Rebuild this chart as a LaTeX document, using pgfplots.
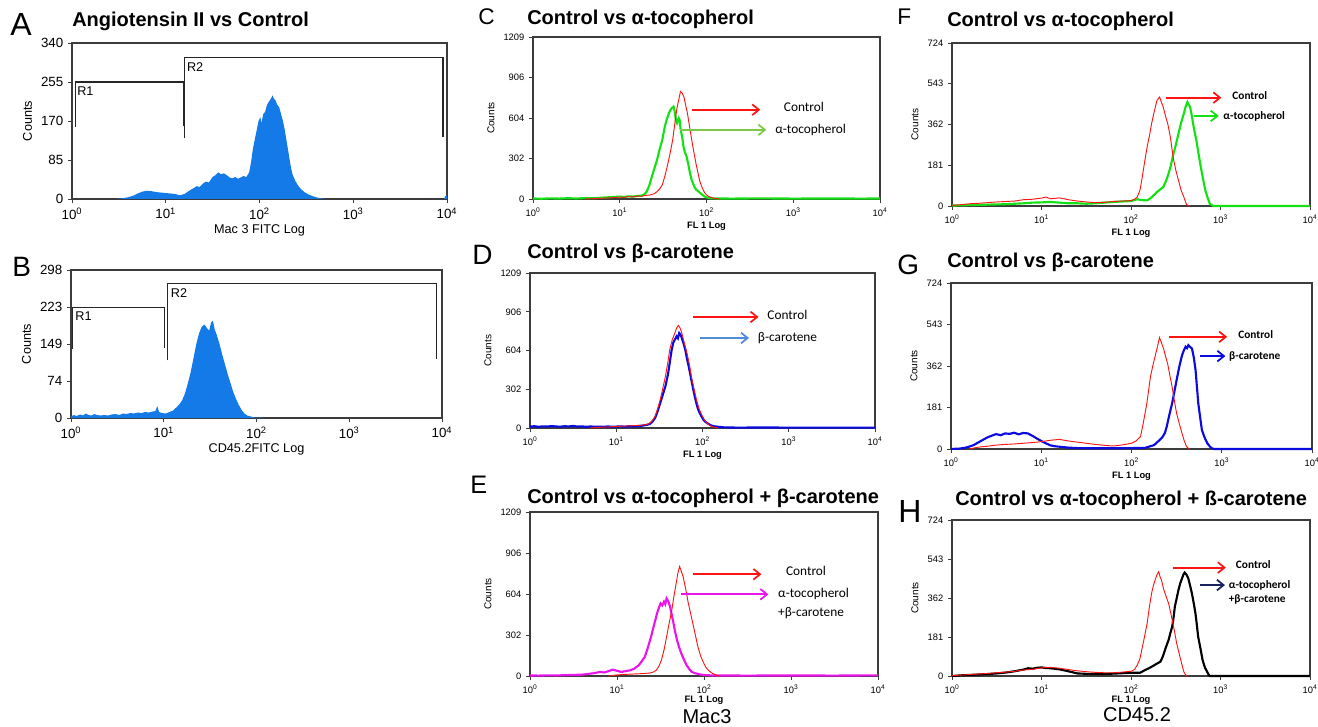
\documentclass[border=0pt]{standalone}
\usepackage{fontspec}
\setmainfont{Liberation Sans}
\newfontfamily\calib{Carlito}
\usepackage{pgfplots}
\pgfplotsset{compat=1.18}
\usetikzlibrary{arrows.meta}
\definecolor{fcsblue}{RGB}{20,122,232}
\definecolor{ctrlred}{RGB}{255,20,20}
\definecolor{tocgreen}{RGB}{20,225,20}
\definecolor{tocarrow}{RGB}{125,200,70}
\definecolor{carblue}{RGB}{10,10,225}
\definecolor{cararrow}{RGB}{80,140,220}
\definecolor{mixmag}{RGB}{235,20,235}
\definecolor{navyarrow}{RGB}{25,35,95}
\definecolor{frame}{RGB}{60,60,60}
\tikzset{
  redline/.style={ctrlred, line width=0.7pt},
  thickline/.style={line width=1.6pt},
  arr/.style={line width=1.5pt, -{Straight Barb[length=5pt,width=8pt,line width=1.3pt]}},
  annC/.style={anchor=west, inner sep=0pt, font=\calib\fontsize{10}{12}\selectfont},
  annF/.style={anchor=west, inner sep=0pt, font=\calib\bfseries\fontsize{8.5}{10}\selectfont, align=left},
}
\pgfplotsset{
  fcs/.style={scale only axis, anchor=south west, xmin=0, xmax=4, ymin=0,
    enlargelimits=false, clip=false,
    /pgf/number format/assume math mode=true,
    xtick={0,1,2,3,4},
    xticklabels={10\textsuperscript{0},10\textsuperscript{1},10\textsuperscript{2},10\textsuperscript{3},10\textsuperscript{4}},
    tick align=outside, tick pos=left, major tick length=3pt,
    axis line style={frame,line width=0.8pt}, tick style={frame,line width=0.6pt},
    ylabel={Counts}},
  big/.style={fcs,
    tick label style={font=\fontsize{10}{12}\selectfont},
    label style={font=\fontsize{9.5}{11}\selectfont},
    xlabel style={yshift=3pt}},
  small/.style={fcs,
    tick label style={font=\fontsize{7}{8}\selectfont},
    ylabel style={font=\fontsize{7.5}{9}\selectfont},
    xlabel style={font=\bfseries\fontsize{7}{8}\selectfont, yshift=3pt},
    xlabel={FL 1 Log}},
}
\begin{document}
\begin{tikzpicture}
\path[use as bounding box] (0pt,0pt) rectangle (988.5pt,-545.25pt);

% ---------------- A ----------------
\begin{axis}[big, at={(54pt,-149.25pt)}, width=281.25pt, height=117pt,
  ymax=340, ytick={0,85,170,255,340}, yticklabels={0,85,170,255,340}, xlabel={Mac 3 FITC Log}]
\addplot[fill=fcsblue, draw=none] coordinates {
(0.48,0) (0.5,1) (0.55,2) (0.6,4) (0.65,7) (0.7,12) (0.75,16) (0.8,18) (0.85,17)
(0.9,15) (0.95,14) (1.0,13) (1.05,12) (1.1,11) (1.15,8) (1.2,11) (1.25,18) (1.3,24)
(1.33,28) (1.36,26) (1.4,34) (1.43,38) (1.46,36) (1.5,48) (1.53,52) (1.56,58) (1.59,54)
(1.62,56) (1.65,52) (1.68,47) (1.71,45) (1.74,48) (1.77,44) (1.8,47) (1.83,50) (1.86,48)
(1.89,58) (1.91,80) (1.93,110) (1.95,130) (1.97,150) (1.99,170) (2.01,178) (2.02,165)
(2.04,185) (2.06,190) (2.08,205) (2.10,212) (2.12,218) (2.14,226) (2.15,220) (2.17,215)
(2.19,205) (2.21,200) (2.23,185) (2.25,170) (2.27,150) (2.29,125) (2.31,100) (2.33,75)
(2.35,55) (2.38,40) (2.41,30) (2.44,22) (2.48,15) (2.52,10) (2.57,6) (2.62,3) (2.67,1) (2.7,0)
} \closedcycle;
\addplot[fill=fcsblue, draw=none] coordinates {(3.97,0) (3.98,6) (4.0,8) (4.0,0)} \closedcycle;
\draw[black!85, line width=0.8pt] (0.036,158) -- (0.036,255) -- (1.19,255) -- (1.19,159);
\draw[black!85, line width=0.8pt] (1.20,132) -- (1.20,308) -- (3.957,308) -- (3.957,136);
\node[anchor=north west, inner sep=1pt, font=\fontsize{9.5}{11}\selectfont] at (0.04,248) {R1};
\node[anchor=north west, inner sep=1pt, font=\fontsize{9.5}{11}\selectfont] at (1.21,301) {R2};
\end{axis}

% ---------------- B ----------------
\begin{axis}[big, at={(53.25pt,-313.5pt)}, width=278.25pt, height=111pt,
  ymax=298, ytick={0,74,149,223,298}, yticklabels={0,74,149,223,298}, xlabel={CD45.2FITC Log}]
\addplot[fill=fcsblue, draw=none] coordinates {
(0,3) (0.03,6) (0.06,4) (0.1,7) (0.13,5) (0.16,9) (0.19,6) (0.22,5) (0.25,8) (0.28,6)
(0.32,5) (0.36,6) (0.4,5) (0.44,7) (0.48,8) (0.52,6) (0.56,9) (0.6,8) (0.64,10) (0.68,9)
(0.72,11) (0.76,10) (0.8,12) (0.84,11) (0.88,13) (0.91,14) (0.93,24) (0.95,12) (0.98,10)
(1.02,9) (1.06,12) (1.1,15) (1.14,22) (1.17,28) (1.2,36) (1.23,50) (1.26,70) (1.29,92)
(1.32,120) (1.35,148) (1.38,170) (1.41,184) (1.44,188) (1.47,180) (1.49,176) (1.51,192)
(1.53,196) (1.55,178) (1.57,168) (1.6,150) (1.63,128) (1.66,108) (1.69,88) (1.72,70)
(1.75,52) (1.78,38) (1.81,26) (1.84,16) (1.87,9) (1.9,5) (1.94,3) (1.98,1) (2.04,1) (2.08,0)
} \closedcycle;
\draw[black!85, line width=0.8pt] (0.02,139) -- (0.02,223) -- (1.007,223) -- (1.007,141);
\draw[black!85, line width=0.8pt] (1.04,116) -- (1.04,270) -- (3.94,270) -- (3.94,119);
\node[anchor=north west, inner sep=1pt, font=\fontsize{9.5}{11}\selectfont] at (0.03,217) {R1};
\node[anchor=north west, inner sep=1pt, font=\fontsize{9.5}{11}\selectfont] at (1.06,264) {R2};
\end{axis}

% ---------------- C ----------------
\begin{axis}[small, at={(399.75pt,-149.25pt)}, width=260.25pt, height=121.5pt,
  ymax=1209, ytick={0,302,604,906,1209}, yticklabels={0,302,604,906,1209}]
\addplot[tocgreen, thickline] coordinates {
(0,4) (0.1,2) (0.2,5) (0.3,3) (0.4,6) (0.5,4) (0.6,7) (0.7,6) (0.8,10) (0.9,14) (1.0,18)
(1.05,15) (1.1,20) (1.15,18) (1.2,22) (1.25,25) (1.28,32) (1.31,55) (1.34,100) (1.37,167)
(1.40,230) (1.43,292) (1.46,370) (1.49,441) (1.52,541) (1.54,590) (1.56,628) (1.58,660)
(1.60,678) (1.62,690) (1.63,666) (1.65,580) (1.66,566) (1.68,603) (1.69,590) (1.70,528)
(1.72,460) (1.735,391) (1.75,350) (1.77,317) (1.79,260) (1.81,192) (1.83,140) (1.86,92)
(1.88,70) (1.91,55) (1.94,38) (1.97,22) (2.0,12) (2.04,6) (2.1,4) (2.3,3) (2.6,5) (3.0,3)
(3.4,4) (3.8,3) (4,4)};
\addplot[redline] coordinates {
(0.6,0) (0.7,3) (0.8,6) (0.9,9) (1.0,14) (1.05,12) (1.1,18) (1.15,15) (1.2,22) (1.25,20)
(1.3,27) (1.35,30) (1.4,40) (1.43,55) (1.46,75) (1.49,105) (1.52,170) (1.55,250) (1.58,340)
(1.61,440) (1.64,590) (1.66,680) (1.68,740) (1.70,803) (1.72,790) (1.74,760) (1.76,700)
(1.78,640) (1.80,560) (1.82,480) (1.84,400) (1.86,330) (1.88,260) (1.90,200) (1.92,140)
(1.94,100) (1.96,70) (1.98,45) (2.01,25) (2.05,12) (2.1,4) (2.15,0)};
\draw[ctrlred, arr] (1.83,666) -- (2.62,666);
\draw[tocarrow, arr] (1.70,516) -- (2.69,516);
\node[annC] at (2.89,686) {Control};
\node[annC] at (2.79,516) {α-tocopherol};
\end{axis}

% ---------------- D ----------------
\begin{axis}[small, at={(397.5pt,-321pt)}, width=258.75pt, height=116.25pt,
  ymax=1209, ytick={0,302,604,906,1209}, yticklabels={0,302,604,906,1209}]
\addplot[carblue, thickline] coordinates {
(0,10) (0.05,14) (0.1,9) (0.15,13) (0.2,11) (0.25,15) (0.3,12) (0.35,10) (0.4,14) (0.45,12)
(0.5,16) (0.55,11) (0.6,13) (0.65,9) (0.7,12) (0.75,10) (0.8,11) (0.85,9) (0.9,12) (0.95,10)
(1.0,11) (1.05,13) (1.1,10) (1.15,14) (1.2,12) (1.25,15) (1.3,18) (1.35,24) (1.39,31) (1.42,50)
(1.45,78) (1.48,130) (1.51,195) (1.54,260) (1.57,325) (1.60,420) (1.62,507) (1.64,600)
(1.66,663) (1.68,690) (1.70,715) (1.715,700) (1.73,741) (1.745,730) (1.76,702) (1.78,660)
(1.80,611) (1.82,540) (1.84,481) (1.855,430) (1.87,377) (1.89,310) (1.91,247) (1.93,190)
(1.95,143) (1.98,100) (2.01,65) (2.04,45) (2.07,31) (2.1,20) (2.14,13) (2.2,8) (2.25,5)
(2.4,3) (2.7,4) (3.0,3) (3.5,3) (4,3)};
\addplot[redline] coordinates {
(0.7,0) (0.8,5) (1.0,12) (1.1,15) (1.2,18) (1.3,22) (1.36,28) (1.39,39) (1.42,60) (1.45,91)
(1.48,150) (1.51,221) (1.54,310) (1.57,403) (1.60,520) (1.62,611) (1.65,690) (1.68,741)
(1.70,780) (1.72,800) (1.74,780) (1.76,741) (1.79,660) (1.82,585) (1.85,490) (1.87,403)
(1.90,310) (1.93,221) (1.96,150) (1.99,104) (2.02,65) (2.05,39) (2.09,18) (2.13,8) (2.18,0)};
\draw[ctrlred, arr] (1.89,866) -- (2.65,866);
\draw[cararrow, arr] (1.97,702) -- (2.54,702);
\node[annC] at (2.75,884) {Control};
\node[annC] at (2.64,702) {β-carotene};
\end{axis}

% ---------------- E ----------------
\begin{axis}[small, at={(397.5pt,-507pt)}, width=261pt, height=123pt,
  ymax=1209, ytick={0,302,604,906,1209}, yticklabels={0,302,604,906,1209},
  xlabel style={yshift=2pt}]
\addplot[mixmag, thickline] coordinates {
(0,4) (0.1,3) (0.2,5) (0.3,4) (0.4,6) (0.5,8) (0.6,10) (0.65,14) (0.7,18) (0.75,22) (0.8,30)
(0.85,26) (0.9,35) (0.95,47) (1.0,38) (1.05,30) (1.1,36) (1.15,42) (1.2,55) (1.25,79) (1.28,105)
(1.32,141) (1.35,200) (1.38,264) (1.40,310) (1.42,363) (1.44,410) (1.46,461) (1.48,500)
(1.50,535) (1.52,520) (1.54,548) (1.555,530) (1.57,572) (1.59,550) (1.61,511) (1.63,450)
(1.65,387) (1.67,320) (1.69,264) (1.715,210) (1.74,165) (1.77,120) (1.80,79) (1.83,52)
(1.86,30) (1.9,20) (1.95,12) (2.0,7) (2.1,4) (2.5,3) (3.0,4) (3.5,3) (4,5)};
\addplot[redline] coordinates {
(0.9,0) (1.0,8) (1.1,12) (1.2,15) (1.3,18) (1.38,22) (1.42,30) (1.45,42) (1.48,70) (1.51,116)
(1.54,190) (1.57,289) (1.60,390) (1.63,486) (1.655,590) (1.68,683) (1.70,760) (1.72,807)
(1.74,770) (1.76,733) (1.79,640) (1.82,535) (1.85,450) (1.88,363) (1.905,290) (1.93,215)
(1.96,150) (1.99,104) (2.02,65) (2.05,42) (2.09,22) (2.12,12) (2.17,0)};
\draw[ctrlred, arr] (1.87,750) -- (2.66,750);
\draw[mixmag, arr] (1.74,602) -- (2.74,602);
\node[annC] at (2.94,777) {Control};
\node[annC] at (2.85,602) {α-tocopherol};
\node[annC] at (2.85,461) {+β-carotene};
\end{axis}

% ---------------- F ----------------
\begin{axis}[small, at={(714pt,-154.5pt)}, width=268.5pt, height=122.25pt,
  ymax=724, ytick={0,181,362,543,724}, yticklabels={0,181,362,543,724}]
\addplot[tocgreen, thickline] coordinates {
(0,2) (0.2,4) (0.4,6) (0.6,8) (0.8,12) (0.9,15) (1.0,16) (1.1,18) (1.2,15) (1.3,12) (1.4,12)
(1.5,10) (1.6,12) (1.7,15) (1.8,18) (1.9,20) (2.0,22) (2.07,30) (2.12,26) (2.18,25) (2.22,35)
(2.26,50) (2.29,62) (2.33,75) (2.36,84) (2.39,110) (2.42,144) (2.445,180) (2.47,225)
(2.50,270) (2.53,321) (2.56,370) (2.59,410) (2.61,440) (2.63,462) (2.645,450) (2.66,440)
(2.68,400) (2.70,351) (2.73,292) (2.755,230) (2.78,173) (2.805,120) (2.83,70) (2.855,38)
(2.88,10) (2.92,0) (4,0)};
\addplot[redline] coordinates {
(0,3) (0.1,6) (0.2,10) (0.3,12) (0.4,15) (0.5,18) (0.6,20) (0.7,22) (0.8,28) (0.9,30) (1.0,35)
(1.05,40) (1.1,32) (1.2,36) (1.3,28) (1.4,22) (1.5,18) (1.6,15) (1.7,16) (1.8,20) (1.9,22)
(2.0,24) (2.04,30) (2.07,40) (2.10,70) (2.12,114) (2.15,190) (2.18,262) (2.21,320) (2.23,366)
(2.26,420) (2.29,469) (2.32,484) (2.34,460) (2.36,440) (2.385,400) (2.41,366) (2.44,306)
(2.47,218) (2.50,160) (2.53,114) (2.56,70) (2.59,40) (2.62,7) (2.65,0)};
\draw[ctrlred, arr] (2.39,481) -- (3.01,481);
\draw[tocgreen, arr] (2.70,400) -- (2.98,400);
\node[annF] at (3.13,492) {Control};
\node[annF] at (3.03,400) {α-tocopherol};
\end{axis}

% ---------------- G ----------------
\begin{axis}[small, at={(713.25pt,-336.75pt)}, width=270.75pt, height=124.5pt,
  ymax=724, ytick={0,181,362,543,724}, yticklabels={0,181,362,543,724}]
\addplot[carblue, thickline] coordinates {
(0,0) (0.1,2) (0.15,5) (0.2,10) (0.25,17) (0.3,28) (0.35,39) (0.4,50) (0.45,58) (0.5,65)
(0.55,60) (0.6,68) (0.65,66) (0.7,71) (0.75,64) (0.8,70) (0.85,68) (0.9,58) (0.95,46) (1.0,35)
(1.05,25) (1.1,16) (1.15,12) (1.2,10) (1.3,6) (1.4,4) (1.6,3) (1.8,3) (2.0,4) (2.15,5) (2.25,17)
(2.3,35) (2.34,50) (2.37,70) (2.39,97) (2.42,150) (2.45,199) (2.475,250) (2.50,301) (2.53,360)
(2.56,409) (2.58,430) (2.60,446) (2.615,440) (2.63,453) (2.65,445) (2.67,438) (2.69,400)
(2.71,344) (2.725,270) (2.74,199) (2.76,140) (2.78,83) (2.81,50) (2.84,25) (2.87,10) (2.89,3)
(2.92,0) (4,0)};
\addplot[redline] coordinates {
(0.2,0) (0.3,8) (0.4,12) (0.5,17) (0.6,20) (0.7,22) (0.8,25) (0.9,28) (1.0,32) (1.1,38) (1.2,42)
(1.3,35) (1.4,30) (1.5,25) (1.6,20) (1.7,16) (1.8,13) (1.9,18) (2.0,25) (2.05,35) (2.10,54)
(2.13,112) (2.17,199) (2.21,315) (2.24,370) (2.26,402) (2.29,450) (2.31,486) (2.335,460)
(2.36,431) (2.38,400) (2.40,373) (2.425,320) (2.45,271) (2.475,210) (2.50,155) (2.53,110)
(2.56,68) (2.585,35) (2.61,10) (2.64,0)};
\draw[ctrlred, arr] (2.42,489) -- (3.06,489);
\draw[carblue, arr] (2.76,405) -- (3.04,405);
\node[annF] at (3.18,501) {Control};
\node[annF] at (3.08,405) {β-carotene};
\end{axis}

% ---------------- H ----------------
\begin{axis}[small, at={(714pt,-507pt)}, width=268.5pt, height=117pt,
  ymax=724, ytick={0,181,362,543,724}, yticklabels={0,181,362,543,724},
  xlabel style={yshift=2pt}]
\addplot[black, thickline] coordinates {
(0,0) (0.1,3) (0.2,5) (0.3,7) (0.4,9) (0.5,12) (0.6,16) (0.7,22) (0.8,30) (0.85,36) (0.9,34)
(0.95,38) (1.0,40) (1.05,37) (1.1,36) (1.2,31) (1.3,22) (1.4,12) (1.5,10) (1.6,9) (1.7,9)
(1.8,11) (1.9,13) (2.0,15) (2.1,15) (2.16,28) (2.2,36) (2.23,43) (2.28,55) (2.33,67) (2.355,90)
(2.38,121) (2.40,145) (2.42,167) (2.44,200) (2.46,229) (2.475,270) (2.49,322) (2.51,360)
(2.53,399) (2.55,430) (2.57,453) (2.585,470) (2.60,480) (2.62,470) (2.64,453) (2.66,420)
(2.68,384) (2.70,340) (2.72,291) (2.735,240) (2.75,183) (2.775,130) (2.80,74) (2.825,40)
(2.85,20) (2.865,8) (2.88,0) (4,0)};
\addplot[redline] coordinates {
(0,2) (0.1,4) (0.2,7) (0.3,9) (0.4,12) (0.5,15) (0.6,18) (0.7,22) (0.8,28) (0.9,31) (1.0,38)
(1.1,40) (1.2,36) (1.3,30) (1.4,24) (1.5,20) (1.6,17) (1.7,15) (1.8,15) (1.9,18) (2.0,22)
(2.04,30) (2.07,51) (2.10,80) (2.12,121) (2.15,180) (2.18,244) (2.205,320) (2.23,384)
(2.25,420) (2.27,446) (2.29,470) (2.31,484) (2.325,460) (2.34,446) (2.36,410) (2.38,384)
(2.40,360) (2.42,337) (2.44,300) (2.46,260) (2.485,210) (2.51,152) (2.54,100) (2.57,51)
(2.59,20) (2.61,5) (2.63,0)};
\draw[ctrlred, arr] (2.47,503) -- (3.06,503);
\draw[navyarrow, arr] (2.77,422) -- (3.05,422);
\node[annF] at (3.09,422) {α-tocopherol};
\node[annF] at (3.09,356) {+β-carotene};
\node[annF] at (3.17,515) {Control};
\end{axis}

% ---------------- titles and letters ----------------
\begin{scope}[x=0.75pt, y=-0.75pt]
\tikzset{ttl/.style={anchor=base west, inner sep=0pt, font=\bfseries\fontsize{15}{17}\selectfont},
         lt/.style={anchor=base west, inner sep=0pt}}
\node[lt, font=\fontsize{24}{24}\selectfont] at (10,36) {A};
\node[lt, font=\fontsize{21}{21}\selectfont] at (12,277) {B};
\node[lt, font=\fontsize{17}{17}\selectfont] at (478,25) {C};
\node[lt, font=\fontsize{21}{21}\selectfont] at (472,265) {D};
\node[lt, font=\fontsize{19}{19}\selectfont] at (470,493) {E};
\node[lt, font=\fontsize{17}{17}\selectfont] at (897,25) {F};
\node[lt, font=\fontsize{21}{21}\selectfont] at (897,275) {G};
\node[lt, font=\fontsize{24}{24}\selectfont] at (898,522) {H};
\node[ttl] at (72,27) {Angiotensin II vs Control};
\node[ttl] at (527,25) {Control vs α-tocopherol};
\node[ttl] at (527,259) {Control vs β-carotene};
\node[ttl] at (527,503) {Control vs α-tocopherol + β-carotene};
\node[ttl] at (947,27) {Control vs α-tocopherol};
\node[ttl] at (947,268) {Control vs β-carotene};
\node[ttl] at (955,505) {Control vs α-tocopherol + ß-carotene};
\node[anchor=base, inner sep=0pt, font=\fontsize{15}{17}\selectfont] at (707,723) {Mac3};
\node[anchor=base, inner sep=0pt, font=\fontsize{15}{17}\selectfont] at (1137,721) {CD45.2};
\end{scope}
\end{tikzpicture}
\end{document}
